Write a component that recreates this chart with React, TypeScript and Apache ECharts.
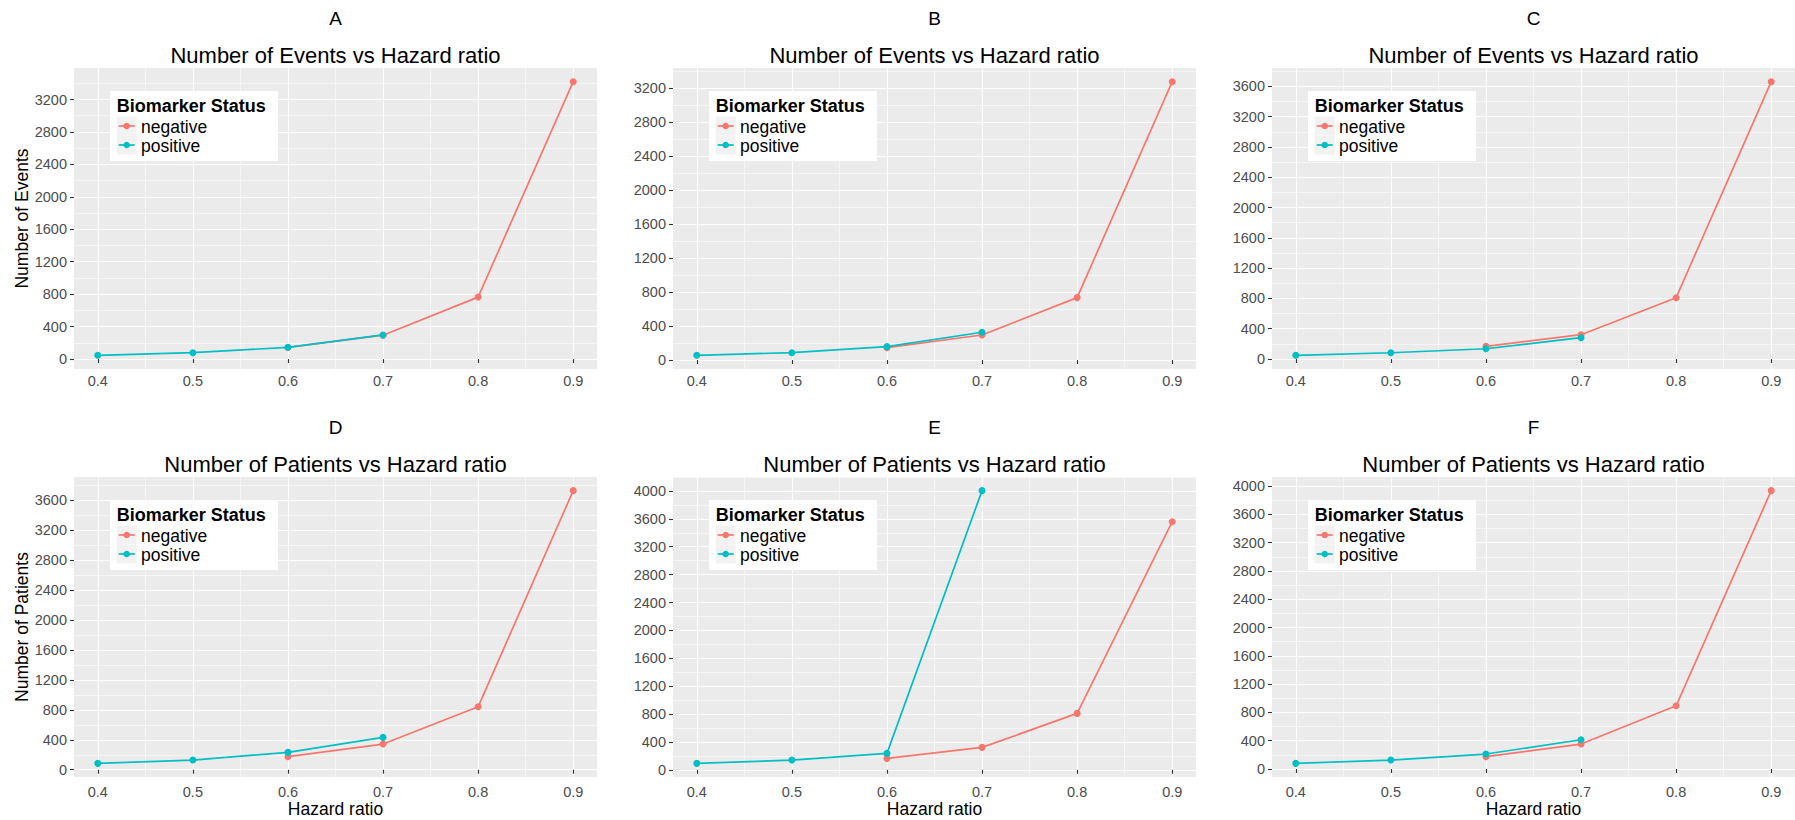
import React, { useEffect, useRef } from "react";
import * as echarts from "echarts";

// ---------------- data ----------------
const hazardRatio = [0.4, 0.5, 0.6, 0.7, 0.8, 0.9];
const seriesNames = ["negative", "positive"];
const panelLetters = ["A", "B", "C", "D", "E", "F"];
const panelTitles = [
  "Number of Events vs Hazard ratio",
  "Number of Events vs Hazard ratio",
  "Number of Events vs Hazard ratio",
  "Number of Patients vs Hazard ratio",
  "Number of Patients vs Hazard ratio",
  "Number of Patients vs Hazard ratio",
];
const yAxisTitles = ["Number of Events", "", "", "Number of Patients", "", ""];
const xAxisTitles = ["", "", "", "Hazard ratio", "Hazard ratio", "Hazard ratio"];
const legendTitle = "Biomarker Status";

const negativeA = [null, null, 143, 294, 764, 3420];
const positiveA = [46, 78, 145, 297, null, null];
const negativeB = [null, null, 145, 294, 734, 3274];
const positiveB = [55, 86, 157, 326, null, null];
const negativeC = [null, null, 168, 321, 810, 3662];
const positiveC = [49, 83, 136, 282, null, null];
const negativeD = [null, null, 174, 343, 841, 3730];
const positiveD = [85, 129, 232, 432, null, null];
const negativeE = [null, null, 163, 321, 809, 3559];
const positiveE = [92, 139, 235, 4005, null, null];
const negativeF = [null, null, 174, 353, 894, 3936];
const positiveF = [80, 127, 212, 414, null, null];

const negatives = [negativeA, negativeB, negativeC, negativeD, negativeE, negativeF];
const positives = [positiveA, positiveB, positiveC, positiveD, positiveE, positiveF];

const yMajorTicks = [0, 400, 800, 1200, 1600, 2000, 2400, 2800, 3200, 3600, 4000];
const yMinorTicks = [-200, 200, 600, 1000, 1400, 1800, 2200, 2600, 3000, 3400, 3800, 4200];
const xMajorTicks = [0.4, 0.5, 0.6, 0.7, 0.8, 0.9];
const xMinorTicks = [0.45, 0.55, 0.65, 0.75, 0.85];

// ---------------- style / layout ----------------
const FONT = "'Liberation Sans', Arial, Helvetica, sans-serif";
const COLORS = ["#F8766D", "#00BFC4"];
const colLeft = [74, 673, 1272];
const plotW = 523;
const rowTop = [68, 477];
const plotH = [301, 300];
const titleY = [55, 464.5];
const letterY = [18.5, 427];
const xLabelMargin = [4, 7];

function expandRange(vals: (number | null)[]): [number, number] {
  const v = vals.filter((x) => x != null) as number[];
  const lo = Math.min(...v);
  const hi = Math.max(...v);
  const pad = (hi - lo) * 0.05;
  return [lo - pad, hi + pad];
}

function pairs(vals: (number | null)[]) {
  const out: number[][] = [];
  vals.forEach((v, i) => {
    if (v != null) out.push([hazardRatio[i], v]);
  });
  return out;
}

function textEl(x: number, y: number, text: string, size: number, opts: any = {}) {
  return {
    type: "text",
    x,
    y,
    z: 20,
    silent: true,
    style: {
      text,
      fontSize: size,
      fontFamily: FONT,
      fontWeight: opts.weight || "normal",
      fill: opts.color || "#000000",
      align: opts.align || "left",
      verticalAlign: "middle",
      textAlign: opts.align || "left",
      textVerticalAlign: "middle",
    },
  };
}

function buildOption() {
  const grids: any[] = [];
  const xAxes: any[] = [];
  const yAxes: any[] = [];
  const series: any[] = [];
  const graphics: any[] = [];

  const [xMin, xMax] = expandRange(hazardRatio);

  for (let i = 0; i < 6; i++) {
    const col = i % 3;
    const row = Math.floor(i / 3);
    const left = colLeft[col];
    const top = rowTop[row];
    const h = plotH[row];
    const [yMin, yMax] = expandRange([...negatives[i], ...positives[i]]);

    grids.push({
      left,
      top,
      width: plotW,
      height: h,
      show: true,
      backgroundColor: "#EBEBEB",
      borderWidth: 0,
      containLabel: false,
      outerBoundsMode: "none",
    });

    const labelStyle = { color: "#4D4D4D", fontSize: 14.5, fontFamily: FONT, margin: 7 };
    const nameStyle = { color: "#000000", fontSize: 17.5, fontFamily: FONT };

    xAxes.push({
      type: "value",
      gridIndex: i,
      position: "bottom",
      min: xMin,
      max: xMax,
      axisLine: { show: false },
      axisTick: { show: true, length: 4, lineStyle: { color: "#333333", width: 1.1 }, customValues: xMajorTicks },
      axisLabel: {
        ...labelStyle,
        margin: xLabelMargin[row],
        customValues: xMajorTicks,
        formatter: (v: number) => Number(v).toFixed(1),
      },
      splitLine: { show: true, lineStyle: { color: "#FFFFFF", width: 1.1 } },
      name: xAxisTitles[i],
      nameLocation: "middle",
      nameGap: 23,
      nameTextStyle: nameStyle,
    });
    xAxes.push({
      type: "value",
      gridIndex: i,
      position: "bottom",
      min: xMin,
      max: xMax,
      axisLine: { show: false },
      axisTick: { show: false, customValues: xMinorTicks },
      axisLabel: { show: false, customValues: xMinorTicks },
      splitLine: { show: true, lineStyle: { color: "#FFFFFF", width: 0.55 } },
    });

    const yMinor = yMinorTicks.filter((t) => t > yMin && t < yMax);
    const yMajor = yMajorTicks.filter((t) => t >= yMin && t <= yMax);
    yAxes.push({
      type: "value",
      gridIndex: i,
      position: "left",
      min: yMin,
      max: yMax,
      axisLine: { show: false },
      axisTick: { show: true, length: 4, lineStyle: { color: "#333333", width: 1.1 }, customValues: yMajor },
      axisLabel: { ...labelStyle, customValues: yMajor, formatter: (v: number) => String(Math.round(v)) },
      splitLine: { show: true, lineStyle: { color: "#FFFFFF", width: 1.1 } },
      name: yAxisTitles[i],
      nameLocation: "middle",
      nameGap: 43,
      nameRotate: 90,
      nameTextStyle: nameStyle,
    });
    yAxes.push({
      type: "value",
      gridIndex: i,
      position: "left",
      min: yMin,
      max: yMax,
      axisLine: { show: false },
      axisTick: { show: false, customValues: yMinor },
      axisLabel: { show: false, customValues: yMinor },
      splitLine: { show: true, lineStyle: { color: "#FFFFFF", width: 0.55 } },
    });

    [negatives[i], positives[i]].forEach((vals, k) => {
      series.push({
        type: "line",
        name: seriesNames[k],
        xAxisIndex: 2 * i,
        yAxisIndex: 2 * i,
        data: pairs(vals),
        symbol: "circle",
        symbolSize: 7,
        showSymbol: true,
        lineStyle: { color: COLORS[k], width: 1.7 },
        itemStyle: { color: COLORS[k] },
        emphasis: { disabled: true },
        silent: true,
        z: 3 + k,
      });
    });

    const cx = left + plotW / 2;
    graphics.push(textEl(cx, letterY[row], panelLetters[i], 19, { align: "center" }));
    graphics.push(textEl(cx, titleY[row], panelTitles[i], 22, { align: "center" }));

    // legend
    const bx = left + 36;
    const by = top + 23;
    graphics.push({
      type: "rect",
      z: 15,
      silent: true,
      shape: { x: bx, y: by, width: 168, height: 70 },
      style: { fill: "#FFFFFF" },
    });
    graphics.push(textEl(bx + 6.7, by + 14.5, legendTitle, 18, { weight: "bold" }));
    seriesNames.forEach((nm, k) => {
      const kx = bx + 6.7;
      const ky = by + 25.5 + k * 19;
      graphics.push({
        type: "rect",
        z: 16,
        silent: true,
        shape: { x: kx, y: ky, width: 20, height: 19 },
        style: { fill: "#F2F2F2" },
      });
      graphics.push({
        type: "line",
        z: 17,
        silent: true,
        shape: { x1: kx + 2, y1: ky + 9.5, x2: kx + 18, y2: ky + 9.5 },
        style: { stroke: COLORS[k], lineWidth: 1.7 },
      });
      graphics.push({
        type: "circle",
        z: 18,
        silent: true,
        shape: { cx: kx + 10, cy: ky + 9.5, r: 3.3 },
        style: { fill: COLORS[k] },
      });
      graphics.push(textEl(bx + 31, ky + 10, nm, 17.5));
    });
  }

  return {
    animation: false,
    backgroundColor: "#FFFFFF",
    grid: grids,
    xAxis: xAxes,
    yAxis: yAxes,
    series,
    graphic: { elements: graphics },
    tooltip: { show: false },
  };
}

export default function App() {
  const ref = useRef<HTMLDivElement>(null);
  useEffect(() => {
    document.body.style.margin = "0";
    document.body.style.overflow = "hidden";
    if (!ref.current) return;
    const chart = echarts.init(ref.current, undefined, { renderer: "svg" });
    chart.setOption(buildOption() as any);
    return () => chart.dispose();
  }, []);
  return <div ref={ref} style={{ width: 1795, height: 820 }} />;
}
